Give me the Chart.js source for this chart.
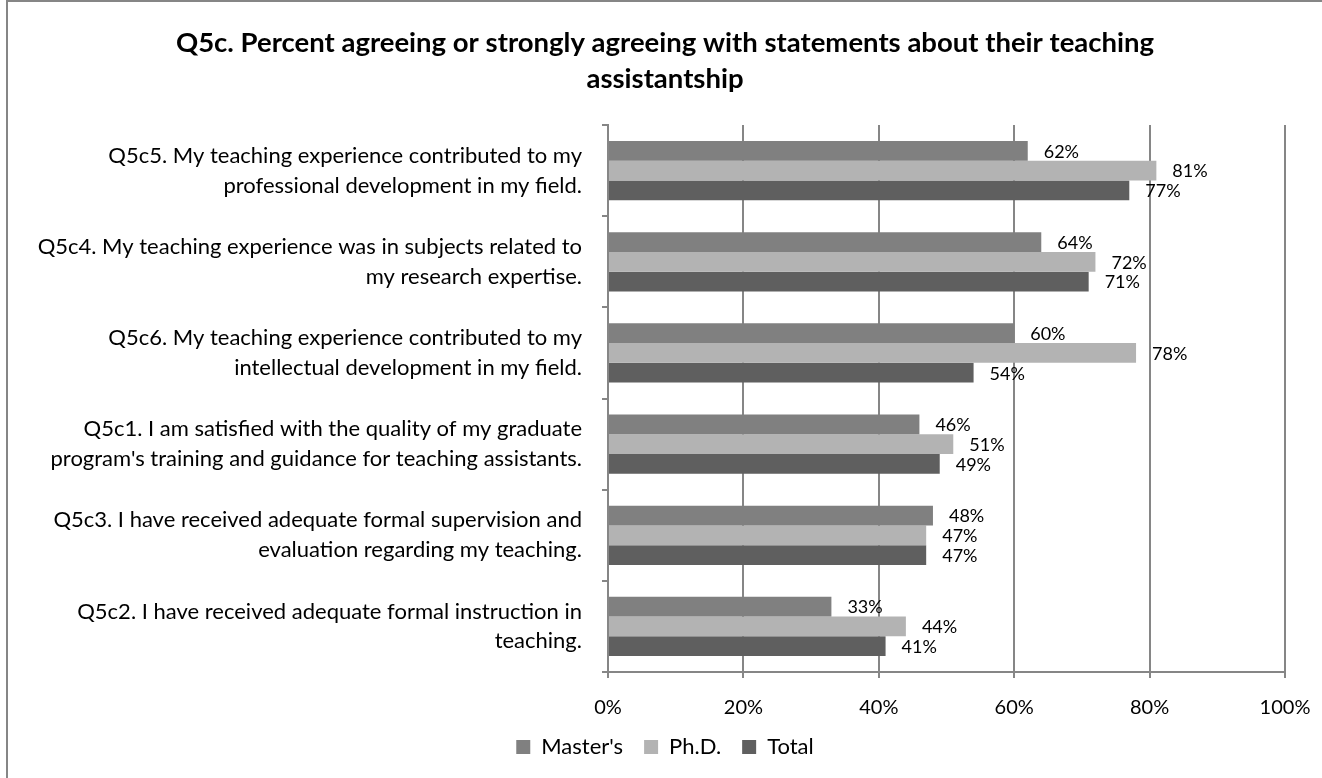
<!DOCTYPE html>
<html>
<head>
  <title>Q5c Teaching Assistantship</title>
  <script src="https://cdn.jsdelivr.net/npm/chart.js"></script>
  <style>
    body { margin: 0; background: #fff; }
  </style>
</head>
<body>
    <div>
        <canvas id="myChart" width="1322" height="778"></canvas>
    </div>

      <script>
// Statements, top to bottom
const statements = [
  ['Q5c5. My teaching experience contributed to my', 'professional development in my field.'],
  ['Q5c4. My teaching experience was in subjects related to', 'my research expertise.'],
  ['Q5c6. My teaching experience contributed to my', 'intellectual development in my field.'],
  ['Q5c1. I am satisfied with the quality of my graduate', "program's training and guidance for teaching assistants."],
  ['Q5c3. I have received adequate formal supervision and', 'evaluation regarding my teaching.'],
  ['Q5c2. I have received adequate formal instruction in', 'teaching.']
];

// Percent agreeing, per group
const masters = [62, 64, 60, 46, 48, 33];
const phd = [81, 72, 78, 51, 47, 44];
const total = [77, 71, 54, 49, 47, 41];

const xTicks = [0, 20, 40, 60, 80, 100];

const axisGray = '#868686';
const fontFamily = 'Lato, "Open Sans", sans-serif';

// White background and outer frame
const frame = {
  id: 'frame',
  beforeDraw(chart) {
    const ctx = chart.ctx;
    ctx.save();
    ctx.fillStyle = '#fff';
    ctx.fillRect(0, 0, chart.width, chart.height);
    ctx.strokeStyle = axisGray;
    ctx.lineWidth = 2;
    ctx.strokeRect(7, 1, chart.width + 20, chart.height + 20);
    ctx.restore();
  }
};

// Value labels just past the end of each bar
const valueLabels = {
  id: 'valueLabels',
  afterDatasetsDraw(chart) {
    const ctx = chart.ctx;
    ctx.save();
    ctx.font = '18px ' + fontFamily;
    ctx.fillStyle = '#000';
    ctx.textBaseline = 'middle';
    ctx.textAlign = 'left';
    chart.data.datasets.forEach((ds, i) => {
      chart.getDatasetMeta(i).data.forEach((bar, j) => {
        ctx.fillText(ds.data[j] + '%', bar.x + 16, bar.y + 1);
      });
    });
    ctx.restore();
  }
};

const ctx = document.getElementById('myChart');

const chart = new Chart(ctx, {
  type: 'bar',
  data: {
    labels: statements,
    datasets: [
      { label: "Master's", data: masters, backgroundColor: '#808080' },
      { label: 'Ph.D.', data: phd, backgroundColor: '#b3b3b3' },
      { label: 'Total', data: total, backgroundColor: '#5f5f5f' }
    ]
  },
  options: {
    indexAxis: 'y',
    responsive: false,
    animation: false,
    devicePixelRatio: 1,
    categoryPercentage: 0.65,
    barPercentage: 1,
    layout: {
      padding: { left: 8, right: 0, top: 0, bottom: 10 }
    },
    scales: {
      x: {
        min: 0,
        max: 100,
        afterBuildTicks: scale => {
          scale.ticks = xTicks.map(v => ({ value: v }));
        },
        afterFit: scale => {
          scale.height = 43;
        },
        ticks: {
          callback: v => v + '%',
          color: '#000',
          padding: 2,
          font: { family: fontFamily, size: 20, lineHeight: 2.8 }
        },
        grid: {
          color: axisGray,
          lineWidth: 2,
          tickLength: 6
        },
        border: { color: axisGray, width: 2 }
      },
      y: {
        afterFit: scale => {
          scale.width = 600;
        },
        ticks: {
          color: '#000',
          padding: 20,
          font: { family: fontFamily, size: 22, lineHeight: 1.36 }
        },
        grid: {
          offset: true,
          drawOnChartArea: false,
          color: axisGray,
          lineWidth: 2,
          tickLength: 6
        },
        border: { color: axisGray, width: 2 }
      },
      // empty right-hand margin so the plot ends at 100% with room for the labels
      y2: {
        position: 'right',
        afterFit: scale => {
          scale.width = 37;
        },
        ticks: { display: false },
        grid: { display: false },
        border: { display: false }
      }
    },
    plugins: {
      title: {
        display: true,
        text: ['Q5c. Percent agreeing or strongly agreeing with statements about their teaching', 'assistantship'],
        color: '#000',
        font: { family: fontFamily, size: 27.5, weight: 'bold', lineHeight: 1.31 },
        padding: { top: 25, bottom: 28 }
      },
      legend: {
        position: 'bottom',
        labels: {
          boxWidth: 14,
          boxHeight: 14,
          padding: 21,
          color: '#000',
          font: { family: fontFamily, size: 22 }
        }
      },
      tooltip: { enabled: false }
    }
  },
  plugins: [frame, valueLabels]
});
      </script>

</body>
</html>
